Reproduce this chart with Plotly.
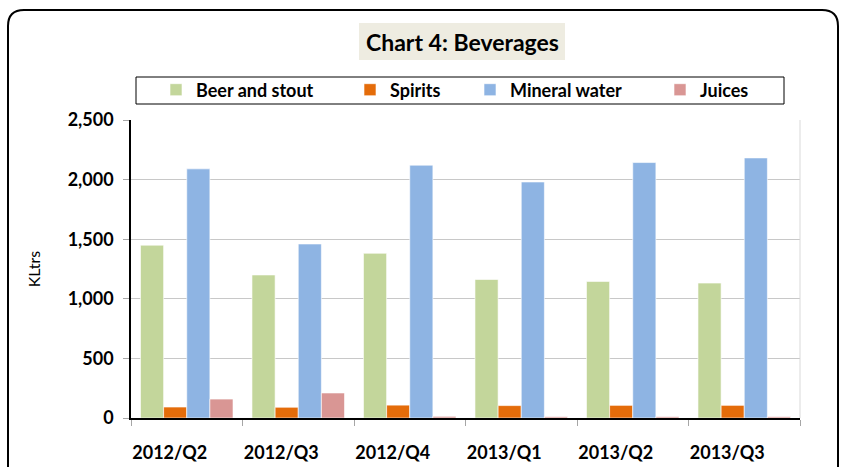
import plotly.graph_objects as go

quarters = ["2012/Q2", "2012/Q3", "2012/Q4", "2013/Q1", "2013/Q2", "2013/Q3"]

beer_and_stout = [1450, 1200, 1382, 1162, 1146, 1132]
spirits = [92, 90, 108, 104, 106, 106]
mineral_water = [2090, 1460, 2121, 1980, 2143, 2182]
juices = [159, 210, 14, 11, 11, 11]

W, H = 842, 467
L, R, T, B = 131, 42, 120, 49
PW, PH = W - L - R, H - T - B


def px(x):
    return (x - L) / PW


def py(y):
    return (H - B - y) / PH


fig = go.Figure()

# name, values, colour, legend id, x of legend text start (px)
series = [
    ("Beer and stout", beer_and_stout, "#C3D69B", "legend", 196),
    ("Spirits", spirits, "#E46C0A", "legend2", 390),
    ("Mineral water", mineral_water, "#8EB4E3", "legend3", 510),
    ("Juices", juices, "#D99694", "legend4", 700),
]
for name, vals, col, leg, _ in series:
    fig.add_trace(
        go.Bar(
            x=quarters,
            y=vals,
            name=name,
            legend=leg,
            showlegend=True,
            marker=dict(color=col, line=dict(color="rgba(255,255,255,0.6)", width=1)),
        )
    )

legends = {}
for name, vals, col, leg, tx in series:
    legends[leg] = dict(
        orientation="h",
        xref="container", yref="container",
        x=(tx - 40) / W, xanchor="left",
        y=1 - 90 / H, yanchor="middle",
        font=dict(size=18, weight="bold"),
        bgcolor="rgba(0,0,0,0)",
        itemwidth=30,
        visible=True,
    )

# outer rounded frame
r = 16
x0, x1, y0, y1 = 8, 838, 10, 480
frame = (
    f"M {px(x0)},{py(y0 + r)} "
    f"Q {px(x0)},{py(y0)} {px(x0 + r)},{py(y0)} "
    f"L {px(x1 - r)},{py(y0)} "
    f"Q {px(x1)},{py(y0)} {px(x1)},{py(y0 + r)} "
    f"L {px(x1)},{py(y1)} L {px(x0)},{py(y1)} Z"
)

fig.update_layout(
    width=W,
    height=H,
    margin=dict(l=L, r=R, t=T, b=B, autoexpand=False),
    paper_bgcolor="white",
    plot_bgcolor="white",
    font=dict(family="Lato, Open Sans, sans-serif", color="black", size=14),
    barmode="group",
    bargap=0.17,
    bargroupgap=0,
    showlegend=True,
    shapes=[
        dict(type="path", path=frame, xref="paper", yref="paper",
             line=dict(color="black", width=2), layer="below"),
        # title box
        dict(type="rect", xref="paper", yref="paper",
             x0=px(359), x1=px(565), y0=py(23), y1=py(60),
             fillcolor="#EEECE1", line=dict(width=0), layer="below"),
        # legend box
        dict(type="rect", xref="paper", yref="paper",
             x0=px(136), x1=px(784), y0=py(77), y1=py(104),
             line=dict(color="black", width=1), fillcolor="white", layer="below"),
        # right plot border
        dict(type="line", xref="paper", yref="paper",
             x0=1, x1=1, y0=0, y1=1, line=dict(color="#D9D9D9", width=1)),
    ],
    annotations=[
        dict(text="<b>Chart 4: Beverages</b>", xref="paper", yref="paper",
             x=px(462), y=py(42), xanchor="center", yanchor="middle",
             showarrow=False, font=dict(size=23)),
    ],
    **legends,
)

fig.update_xaxes(
    showline=True, linecolor="black", linewidth=1.5,
    ticks="outside", tickson="boundaries", ticklen=6, tickcolor="#A6A6A6",
    tickfont=dict(size=18),
    tickprefix="<b>", ticksuffix="</b>",
    ticklabelstandoff=18,
    ticklabelshift=-17,
)

fig.update_yaxes(
    range=[0, 2500], dtick=500, tickformat=",",
    showline=True, linecolor="black", linewidth=1.5,
    ticks="outside", ticklen=6, tickcolor="#A6A6A6",
    showgrid=True, gridcolor="#C8C8C8", gridwidth=1,
    zeroline=False,
    tickfont=dict(size=18),
    tickprefix="<b>", ticksuffix="</b>",
    ticklabelstandoff=6,
    title=dict(text="KLtrs", font=dict(size=16), standoff=23),
)

# remove the default 8px page margin so the figure fills the window
fig.write_html(
    "out.html",
    config={"displayModeBar": False},
    post_script="document.body.style.margin='0';",
)
